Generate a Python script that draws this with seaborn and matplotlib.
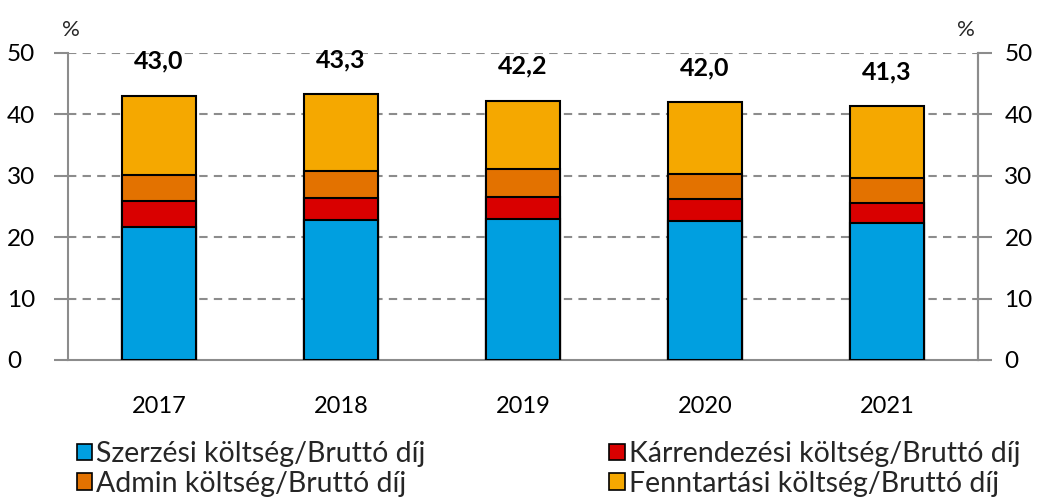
import matplotlib
matplotlib.use("Agg")
import matplotlib.pyplot as plt
import matplotlib.patches as mpatches
import seaborn as sns
import pandas as pd
import numpy as np

# Data
years = ['2017', '2018', '2019', '2020', '2021']
szerzesi = [21.7, 22.7, 22.9, 22.6, 22.3]
karrendezesi = [4.1, 3.7, 3.6, 3.6, 3.3]
admin = [4.3, 4.4, 4.5, 4.0, 4.0]
fenntartasi = [12.9, 12.5, 11.2, 11.8, 11.7]
totals = [43.0, 43.3, 42.2, 42.0, 41.3]

labels = ['Szerzési költség/Bruttó díj', 'Kárrendezési költség/Bruttó díj',
          'Admin költség/Bruttó díj', 'Fenntartási költség/Bruttó díj']
colors = ['#009FE0', '#D90000', '#E37200', '#F5A800']

sns.set_theme(style="white")
plt.rcParams['font.family'] = ['Lato', 'DejaVu Sans']

df = pd.DataFrame({'Év': years, 'szerzesi': szerzesi, 'karrendezesi': karrendezesi,
                   'admin': admin, 'fenntartasi': fenntartasi})
cols = ['szerzesi', 'karrendezesi', 'admin', 'fenntartasi']
cum = df[cols].cumsum(axis=1)

fig = plt.figure(figsize=(10.37, 4.99), dpi=100)
ax = fig.add_axes([0.0656, 0.2786, 0.8775, 0.6158])

# stacked bars: draw cumulative heights from the top layer down
for col, color in zip(cols[::-1], colors[::-1]):
    sns.barplot(x=df['Év'], y=cum[col], color=color, width=0.41,
                edgecolor='black', linewidth=1.5, saturation=1, ax=ax, zorder=3)

ax.set_ylim(0, 50)
ax.set_xlim(-0.5, 4.5)
ax.set_yticks(np.arange(0, 51, 10))
for y in range(10, 51, 10):
    ax.axhline(y, color='#8c8c8c', linestyle=(0, (4, 3)), linewidth=1.5, zorder=1)

ax.set_xlabel('')
ax.set_ylabel('')
ax.spines['top'].set_visible(False)
for s in ['left', 'right', 'bottom']:
    ax.spines[s].set_color('#8c8c8c')
    ax.spines[s].set_linewidth(1.5)
ax.tick_params(axis='y', which='both', left=True, direction='out', length=10,
               width=1.5, color='#8c8c8c', labelsize=17.5, pad=34, labelcolor='black')
for lbl in ax.get_yticklabels():
    lbl.set_horizontalalignment('left')
ax.tick_params(axis='x', bottom=False, labelsize=17, pad=20, labelcolor='black')

ax2 = ax.twinx()
ax2.set_ylim(0, 50)
ax2.set_yticks(np.arange(0, 51, 10))
for s in ['top', 'left', 'bottom']:
    ax2.spines[s].set_visible(False)
ax2.spines['right'].set_color('#8c8c8c')
ax2.spines['right'].set_linewidth(1.5)
ax2.tick_params(axis='y', right=True, direction='out', length=10, width=1.5,
                color='#8c8c8c', labelsize=17.5, pad=9, labelcolor='black')

# totals above bars
for i, t in enumerate(totals):
    ax.text(i, t + 5.6, f'{t:.1f}'.replace('.', ','), ha='center', va='center',
            fontsize=18, fontweight='bold', color='black')

fig.text(71 / 1037, 1 - 30 / 499, '%', fontsize=16, ha='center', va='center')
fig.text(966 / 1037, 1 - 30 / 499, '%', fontsize=16, ha='center', va='center')

handles = [mpatches.Patch(facecolor=c, edgecolor='black', linewidth=1.2) for c in colors]
order = [0, 2, 1, 3]
fig.legend([handles[i] for i in order], [labels[i] for i in order], ncol=2,
           loc='upper left', bbox_to_anchor=(0.0743, 0.116), frameon=False,
           borderpad=0, borderaxespad=0,
           fontsize=20.5, handlelength=0.53, handleheight=0.53, handletextpad=0.15,
           columnspacing=6.45, labelspacing=0.12)

fig.savefig('out.png', dpi=100)
